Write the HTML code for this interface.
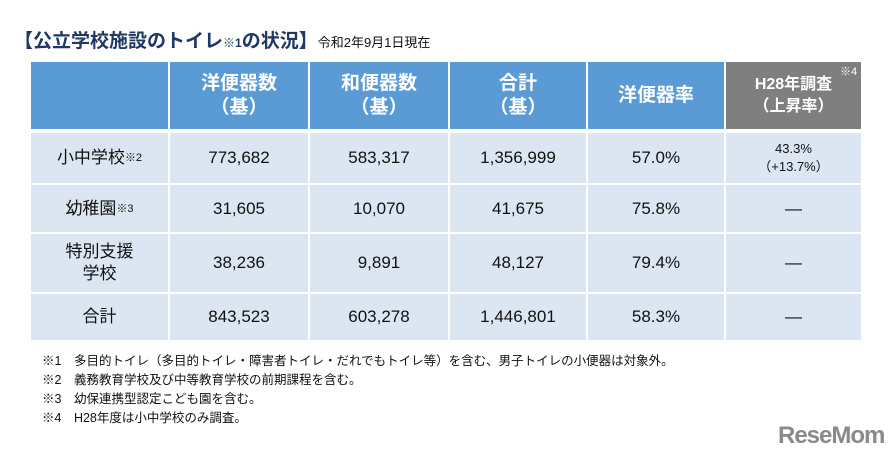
<!DOCTYPE html>
<html><head><meta charset="utf-8"><style>
body{margin:0;width:889px;height:463px;background:#fff;font-family:"Liberation Sans","Noto Sans CJK JP",sans-serif;position:relative;overflow:hidden}
.a{position:absolute}
.c{position:absolute;display:flex;align-items:center;justify-content:center;text-align:center;box-sizing:border-box}
.h{background:#5b9bd5;color:#fff;font-weight:bold;font-size:19px;line-height:24px}
.g{background:#7f7f7f;color:#fff;font-weight:bold;font-size:16px;line-height:22px}
.b{background:#dce6f2;color:#111;font-size:17px;line-height:22px}
.fn{position:absolute;left:42px;font-size:12.5px;color:#111}
</style></head><body>
<div class="a" style="left:14px;top:26px;font-size:19px;font-weight:bold;color:#1f3864;white-space:nowrap">【公立学校施設のトイレ<span style="font-size:12px">※1</span>の状況】<span style="font-size:13px;font-weight:normal;color:#111">令和2年9月1日現在</span></div>
<div id="t"></div>
<div class="fn" style="top:350px">※1　多目的トイレ（多目的トイレ・障害者トイレ・だれでもトイレ等）を含む、男子トイレの小便器は対象外。</div>
<div class="fn" style="top:369px">※2　義務教育学校及び中等教育学校の前期課程を含む。</div>
<div class="fn" style="top:388px">※3　幼保連携型認定こども園を含む。</div>
<div class="fn" style="top:407px">※4　H28年度は小中学校のみ調査。</div>
<div class="a" style="left:778px;top:422px;font-size:24px;font-weight:bold;color:#8a8a8a;letter-spacing:-1px">ReseMom</div>
<script>
const cols=[31,169,309,449,587,725,862];
const rowsY=[[62,129],[133,183],[185,232],[234,292],[294,340]];
const header=['','洋便器数<br>（基）','和便器数<br>（基）','合計<br>（基）','洋便器率','H28年調査<br>（上昇率）'];
const labels=['小中学校<span style="font-size:11px">※2</span>','幼稚園<span style="font-size:11px">※3</span>','特別支援<br>学校','合計'];
const western=['773,682','31,605','38,236','843,523'];
const japanese=['583,317','10,070','9,891','603,278'];
const totals=['1,356,999','41,675','48,127','1,446,801'];
const rates=['57.0%','75.8%','79.4%','58.3%'];
const h28=['<span style="font-size:13px;line-height:18px">43.3%<br>（+13.7%）</span>','—','—','—'];
const t=document.getElementById('t');
function cell(r,c,html,cls){
 const d=document.createElement('div');
 d.className='c '+cls;
 
 
 const x0=cols[c]+(c?1:0),x1=cols[c+1]-1;
 d.style.left=x0+'px';d.style.width=(x1-x0)+'px';
 d.style.top=rowsY[r][0]+'px';d.style.height=(rowsY[r][1]-rowsY[r][0])+'px';
 d.innerHTML=html;t.appendChild(d);
}
header.forEach((h,c)=>cell(0,c,h,c==5?'g':'h'));
for(let i=0;i<4;i++){
 const vals=[labels[i],western[i],japanese[i],totals[i],rates[i],h28[i]];
 vals.forEach((v,c)=>cell(i+1,c,v,'b'));
}
</script>
<div class="a" style="left:840px;top:63px;font-size:11px;color:#fff">※4</div>
</body></html>
